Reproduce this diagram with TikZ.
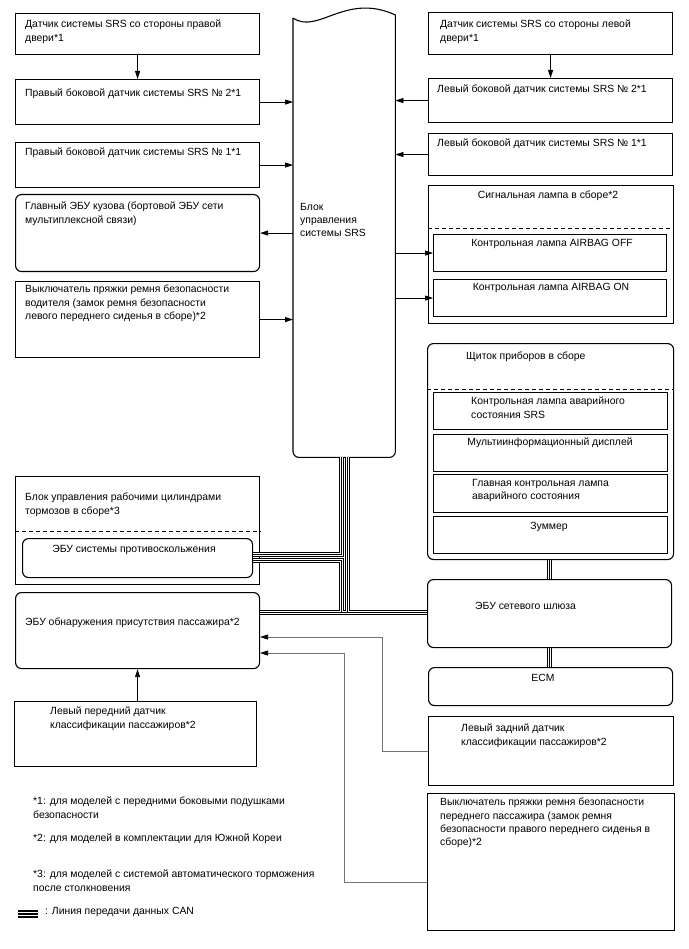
\documentclass[tikz,border=0pt]{standalone}
\usepackage{fontspec}
\setmainfont{Liberation Sans}
\usetikzlibrary{arrows.meta,calc}

\begin{document}
\begin{tikzpicture}[
  x=1pt, y=-1pt,
  font=\fontsize{10.4}{13.3}\selectfont,
  blk/.style={draw=black, line width=1.1pt, fill=white},
  rblk/.style={blk, rounded corners=6pt},
  txt/.style={inner sep=0pt, align=left, anchor=north west},
  ctxt/.style={inner sep=0pt, align=center, anchor=north},
  dashsep/.style={line width=0.8pt, dash pattern=on 4pt off 3pt},
  arr/.style={-{Triangle[length=8pt,width=5pt]}, line width=0.8pt},
  garr/.style={-{Triangle[length=8pt,width=5pt,color=black]}, draw=black!55, line width=0.8pt},
]
\useasboundingbox (0,0) rectangle (688,949);

% ---- box macro: #1 name #2 style #3 x1 #4 y1 #5 x2 #6 y2 ----
\newcommand{\mkbox}[6]{%
  \node[#2, anchor=north west, minimum width=#5pt-#3pt, minimum height=#6pt-#4pt] (#1) at (#3,#4) {};%
}

% ---- left column ----
\mkbox{rdoor}{blk}{15}{13}{259}{54}
\mkbox{rs2}{blk}{15}{79}{259}{124}
\mkbox{rs1}{blk}{15}{142}{259}{187}
\mkbox{bcm}{rblk}{15}{194}{259}{271}
\mkbox{dbuckle}{blk}{15}{281}{259}{357}
\node[txt] (rdoor-t) at (25,20) {Датчик системы SRS со стороны правой\\двери*1};
\node[txt] (rs2-t) at (25,89) {Правый боковой датчик системы SRS № 2*1};
\node[txt] (rs1-t) at (25,148) {Правый боковой датчик системы SRS № 1*1};
\node[txt] (bcm-t) at (25,202) {Главный ЭБУ кузова (бортовой ЭБУ сети\\мультиплексной связи)};
\node[txt] (dbuckle-t) at (25,285) {Выключатель пряжки ремня безопасности\\водителя (замок ремня безопасности\\левого переднего сиденья в сборе)*2};

% ---- SRS unit (wavy top) ----
\mkbox{srs}{draw=none}{293}{15}{395}{457}
\draw[blk, rounded corners=6pt] ([yshift=-3pt]srs.north west) |- (srs.south) -| (srs.north east);
\draw[blk] ([yshift=-3pt]srs.north west) .. controls +(25,17) and +(-50,-23) .. (srs.north east);
\node[txt] (srs-t) at (300,203) {Блок\\управления\\системы SRS};

% ---- right column ----
\mkbox{ldoor}{blk}{428}{12}{672}{54}
\mkbox{ls2}{blk}{428}{78}{672}{122}
\mkbox{ls1}{blk}{428}{133}{672}{175}
\node[txt] (ldoor-t) at (440,20) {Датчик системы SRS со стороны левой\\двери*1};
\node[txt] (ls2-t) at (437,85) {Левый боковой датчик системы SRS № 2*1};
\node[txt] (ls1-t) at (437,139) {Левый боковой датчик системы SRS № 1*1};

% warning lamp assy
\mkbox{warn}{blk}{428}{185}{673}{323}
\draw[dashsep] ([yshift=-43pt]warn.north west) -- ([yshift=-43pt]warn.north east);
\mkbox{off}{blk}{433}{234}{666}{271}
\mkbox{on}{blk}{433}{279}{666}{316}
\node[ctxt] (warn-t) at (548,191) {Сигнальная лампа в сборе*2};
\node[ctxt] (off-t) at (552,239) {Контрольная лампа AIRBAG OFF};
\node[ctxt] (on-t) at (551,283) {Контрольная лампа AIRBAG ON};

% combination meter
\mkbox{cluster}{rblk}{427}{343}{673}{559}
\draw[dashsep] ([yshift=-46pt]cluster.north west) -- ([yshift=-46pt]cluster.north east);
\mkbox{srsw}{blk}{433}{392}{667}{429}
\mkbox{mid}{blk}{433}{434}{667}{471}
\mkbox{mwarn}{blk}{433}{474}{667}{512}
\mkbox{buzz}{blk}{433}{516}{667}{553}
\node[txt] (cluster-t) at (466,352) {Щиток приборов в сборе};
\node[txt] (srsw-t) at (471,397) {Контрольная лампа аварийного\\состояния SRS};
\node[ctxt] (mid-t) at (550,438) {Мультиинформационный дисплей};
\node[txt] (mwarn-t) at (472,479) {Главная контрольная лампа\\аварийного состояния};
\node[ctxt] (buzz-t) at (549,522) {Зуммер};

\mkbox{gw}{rblk}{427}{579}{671}{647}
\mkbox{ecm}{rblk}{428}{667}{672}{705}
\mkbox{rear}{blk}{428}{716}{673}{785}
\mkbox{pbuckle}{blk}{427}{793}{674}{930}
\node[txt] (gw-t) at (475,602) {ЭБУ сетевого шлюза};
\node[ctxt] (ecm-t) at (543,674) {ECM};
\node[txt] (rear-t) at (461,724) {Левый задний датчик\\классификации пассажиров*2};
\node[txt] (pbuckle-t) at (440,798) {Выключатель пряжки ремня безопасности\\переднего пассажира (замок ремня\\безопасности правого переднего сиденья в\\сборе)*2};

% ---- lower left ----
\mkbox{brk}{blk}{15}{476}{259}{584}
\draw[dashsep] ([yshift=-55pt]brk.north west) -- ([yshift=-55pt]brk.north east);
\mkbox{abs}{rblk}{22}{538}{252}{577}
\mkbox{occ}{rblk}{15}{592}{259}{668}
\mkbox{lfront}{blk}{14}{701}{256}{766}
\node[txt] (brk-t) at (25,493) {Блок управления рабочими цилиндрами\\тормозов в сборе*3};
\node[ctxt] (abs-t) at (134,545) {ЭБУ системы противоскольжения};
\node[txt] (occ-t) at (25,618) {ЭБУ обнаружения присутствия пассажира*2};
\node[txt] (lfront-t) at (50,707) {Левый передний датчик\\классификации пассажиров*2};

% ---- signal arrows ----
\draw[arr] (rdoor.south) -- (rs2.north);
\draw[arr] (rs2.east) -- (rs2.east -| srs.west);
\draw[arr] (rs1.east) -- (rs1.east -| srs.west);
\draw[arr] (bcm.east -| srs.west) -- (bcm.east);
\draw[arr] (dbuckle.east) -- (dbuckle.east -| srs.west);
\draw[arr] (ldoor.south) -- (ls2.north);
\draw[arr] (ls2.west) -- (ls2.west -| srs.east);
\draw[arr] (ls1.west) -- (ls1.west -| srs.east);
\draw[arr] (off.west -| srs.east) -- (off.west);
\draw[arr] (on.west -| srs.east) -- (on.west);
\draw[arr] (lfront.north -| occ.south) -- (occ.south);
% seat sensors to occupant ECU
\coordinate (r1) at (382,637);
\coordinate (r2) at (344,653);
\draw[garr] (rear.west) -| (r1) -- (r1 -| occ.east);
\draw[garr] ([yshift=-20pt]pbuckle.west) -| (r2) -- (r2 -| occ.east);

% ---- CAN bus (three passes: black / white / black) ----
\coordinate (ja) at (341.5,554.5);
\coordinate (jb) at (341.5,560.5);
\coordinate (jc) at (347.5,612.5);
\coordinate (jd) at (549.5,600);
\foreach \lw/\cl in {5pt/black,3pt/white,1pt/black}{
  \draw[line width=\lw, draw=\cl] (ja |- srs.south) -- (ja) -- (ja -| abs.east);
  \draw[line width=\lw, draw=\cl] (jb -| abs.east) -- (jb) -- (jb |- jc);
  \draw[line width=\lw, draw=\cl] (jc |- srs.south) -- (jc);
  \draw[line width=\lw, draw=\cl] (jc -| occ.east) -- (jc -| gw.west);
  \draw[line width=\lw, draw=\cl] (jd |- cluster.south) -- (jd |- gw.north);
  \draw[line width=\lw, draw=\cl] (jd |- gw.south) -- (jd |- ecm.north);
}

% ---- notes ----
\node[txt] (n1) at (33,797) {*1: для моделей с передними боковыми подушками\\безопасности};
\node[txt] (n2) at (33,834) {*2: для моделей в комплектации для Южной Кореи};
\node[txt] (n3) at (33,870) {*3: для моделей с системой автоматического торможения\\после столкновения};
\foreach \yy in {911,914,917}{\draw[line width=2pt] (18,\yy) -- (38,\yy);}
\node[txt] (leg) at (45,907) {: Линия передачи данных CAN};

\end{tikzpicture}
\end{document}
